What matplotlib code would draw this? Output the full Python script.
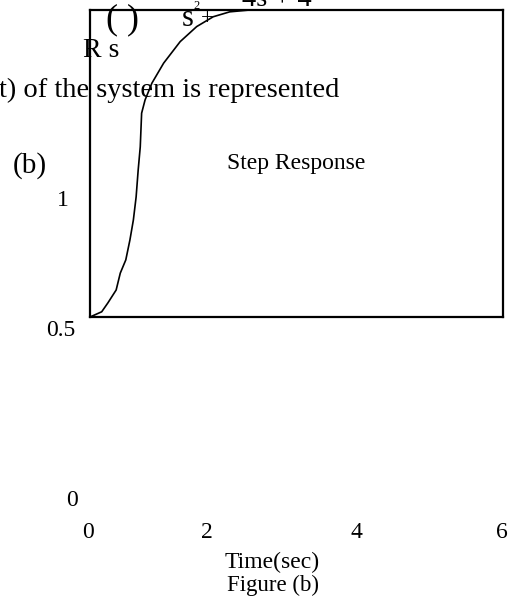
import matplotlib
matplotlib.use("Agg")
import matplotlib.pyplot as plt

plt.rcParams['font.family'] = ['Liberation Serif', 'DejaVu Serif']

# step response (time in sec, normalised response)
time = [0.0, 0.17, 0.26, 0.38, 0.44, 0.52, 0.58, 0.63, 0.67, 0.70, 0.73,
        0.74, 0.75, 0.80, 0.90, 1.07, 1.31, 1.55, 1.79, 2.03, 2.32]
resp = [0.0, 0.017, 0.046, 0.088, 0.143, 0.186, 0.251, 0.316, 0.391, 0.479,
        0.554, 0.609, 0.664, 0.707, 0.762, 0.827, 0.897, 0.946, 0.978, 0.994, 1.0]

x_ticks = ["0", "2", "4", "6"]
y_ticks = ["1", "0.5", "0"]

W, H = 511, 605
fig = plt.figure(figsize=(W / 100, H / 100), dpi=100)


def px(x, y):
    # pixel position -> figure fraction
    return x / W, 1 - y / H


ax = fig.add_axes([90 / W, 1 - 317 / H, 413 / W, 307 / H])
ax.plot(time, resp, color='black', lw=1.2)
ax.set_xlim(0, 6)
ax.set_ylim(0, 1)
ax.set_xticks([])
ax.set_yticks([])
for s in ax.spines.values():
    s.set_linewidth(1.6)
ax.text(0.5, 0.5, "Step Response", transform=ax.transAxes,
        ha='center', va='center', fontsize=17)
ax.patch.set_alpha(0)

# tick labels as they sit in the scanned figure
for lab, xp in zip(x_ticks, [88, 207, 356, 502]):
    fig.text(*px(xp, 532), lab, ha='center', va='center', fontsize=17)
for lab, (xp, yp) in zip(y_ticks, [(63, 200), (61, 330), (72, 500)]):
    fig.text(*px(xp, yp), lab, ha='center', va='center', fontsize=17)

fig.text(*px(272, 562), "Time(sec)", ha='center', va='center', fontsize=17)
fig.text(*px(273, 585), "Figure (b)", ha='center', va='center', fontsize=16.5)
fig.text(*px(30, 166), "(b)", ha='center', va='center', fontsize=21)

# fragments of the surrounding page text
fig.text(*px(-1, 97), "t) of the system is represented", ha='left',
         va='baseline', fontsize=20.5)
fig.text(*px(123, 20), "( )", ha='center', va='center', fontsize=26)
fig.text(*px(83, 57), "R s", ha='left', va='baseline', fontsize=20)
fig.text(*px(182, 26), "s", ha='left', va='baseline', fontsize=22)
fig.text(*px(193, 9), "2", ha='left', va='baseline', fontsize=9)
fig.text(*px(207, 19), "+", ha='center', va='center', fontsize=16.5)
fig.text(*px(242, 6), "4s + 4", ha='left', va='baseline', fontsize=20.5)

fig.savefig("out.png", dpi=100)
